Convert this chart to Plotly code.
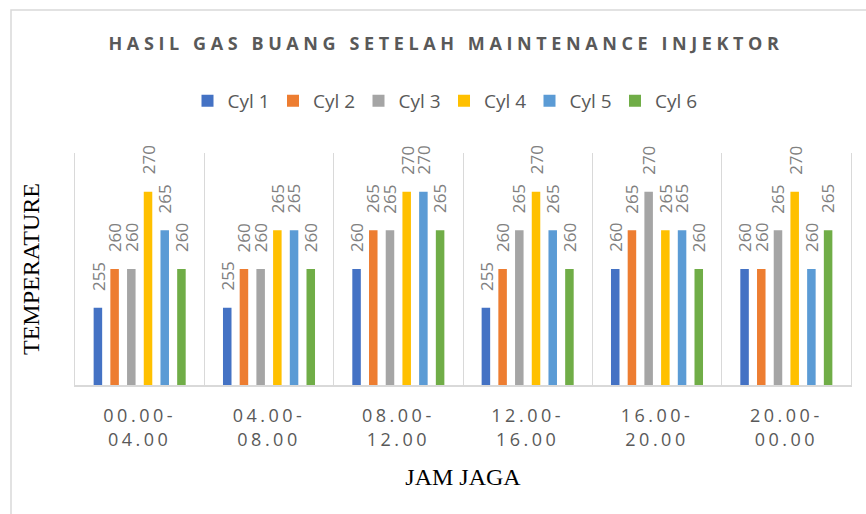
import plotly.graph_objects as go

categories = ["00.00-04.00", "04.00-08.00", "08.00-12.00", "12.00-16.00", "16.00-20.00", "20.00-00.00"]
tick_labels = ["00.00-<br>04.00", "04.00-<br>08.00", "08.00-<br>12.00",
               "12.00-<br>16.00", "16.00-<br>20.00", "20.00-<br>00.00"]
series_names = ["Cyl 1", "Cyl 2", "Cyl 3", "Cyl 4", "Cyl 5", "Cyl 6"]
cyl1 = [255, 255, 260, 255, 260, 260]
cyl2 = [260, 260, 265, 260, 265, 260]
cyl3 = [260, 260, 265, 265, 270, 265]
cyl4 = [270, 265, 270, 270, 265, 270]
cyl5 = [265, 265, 270, 265, 265, 260]
cyl6 = [260, 260, 265, 260, 260, 265]
series_values = [cyl1, cyl2, cyl3, cyl4, cyl5, cyl6]
colors = ["#4472C4", "#ED7D31", "#A5A5A5", "#FFC000", "#5B9BD5", "#70AD47"]

W, H = 866, 514
ML, MR, MT, MB = 75, 15, 153, 129
BARGAP = 0.225
GROUPGAP = 0.49
plot_w = W - ML - MR
cat_px = plot_w / len(categories)
slot = (1 - BARGAP) / len(series_names)

fig = go.Figure()
annotations = []
for i, (name, vals, col) in enumerate(zip(series_names, series_values, colors)):
    fig.add_trace(go.Bar(name=name, x=categories, y=vals, marker_color=col,
                         marker_line_width=0))
    shift = ((i + 0.5) * slot - (1 - BARGAP) / 2) * cat_px
    for c, v in zip(categories, vals):
        annotations.append(dict(x=c, y=v, xref="x", yref="y", text=str(v),
                                textangle=-90, showarrow=False, xanchor="center",
                                yanchor="bottom", xshift=shift, yshift=15,
                                font=dict(family="Open Sans", size=17, color="#808080")))

ls = "letter-spacing:3.5px"
fig.update_layout(
    width=W, height=H,
    margin=dict(l=ML, r=MR, t=MT, b=MB),
    paper_bgcolor="white", plot_bgcolor="white",
    barmode="group", bargap=BARGAP, bargroupgap=GROUPGAP,
    title=dict(text='<span style="letter-spacing:4.6px"><b>HASIL GAS BUANG SETELAH MAINTENANCE INJEKTOR</b></span>',
               x=446 / W, xref="container", xanchor="center",
               y=1 - 44 / H, yref="container", yanchor="middle",
               font=dict(family="Open Sans", size=18, color="#595959")),
    legend=dict(orientation="h", x=(444 - ML) / plot_w, xanchor="center",
                y=(H - MB - 101) / (H - MT - MB), yanchor="middle",
                font=dict(family="Open Sans", size=19, color="#595959"),
                entrywidth=40.5, traceorder="normal"),
    annotations=annotations,
    shapes=[dict(type="rect", xref="paper", yref="paper",
                 x0=(11 - ML) / plot_w, x1=(880 - ML) / plot_w,
                 y0=(H - MB - 530) / (H - MT - MB), y1=(H - MB - 10) / (H - MT - MB),
                 line=dict(color="#d9d9d9", width=1.5), layer="below")],
)
fig.update_xaxes(
    type="category", tickvals=categories,
    ticktext=[f'<span style="{ls}">{t}</span>'.replace("<br>", f'</span><br><span style="{ls}">') for t in tick_labels],
    tickson="boundaries", showgrid=True, gridcolor="#d9d9d9", gridwidth=1,
    showline=True, linecolor="#d9d9d9", linewidth=1.5, ticks="",
    ticklabelstandoff=14,
    tickfont=dict(family="Open Sans", size=18, color="#595959"),
    title=dict(text="JAM JAGA", standoff=18,
               font=dict(family="Liberation Serif", size=24, color="black")),
    automargin=False,
)
fig.update_yaxes(
    range=[245, 275], showticklabels=False, showgrid=False, zeroline=False,
    showline=True, mirror=True, linecolor="#d9d9d9", linewidth=1, ticks="",
    title=dict(text="TEMPERATURE", standoff=27,
               font=dict(family="Liberation Serif", size=24, color="black")),
    automargin=False,
)
fig.write_html("out.html", config={"displayModeBar": False},
               post_script="document.body.style.margin='0';document.body.style.overflow='hidden';")
